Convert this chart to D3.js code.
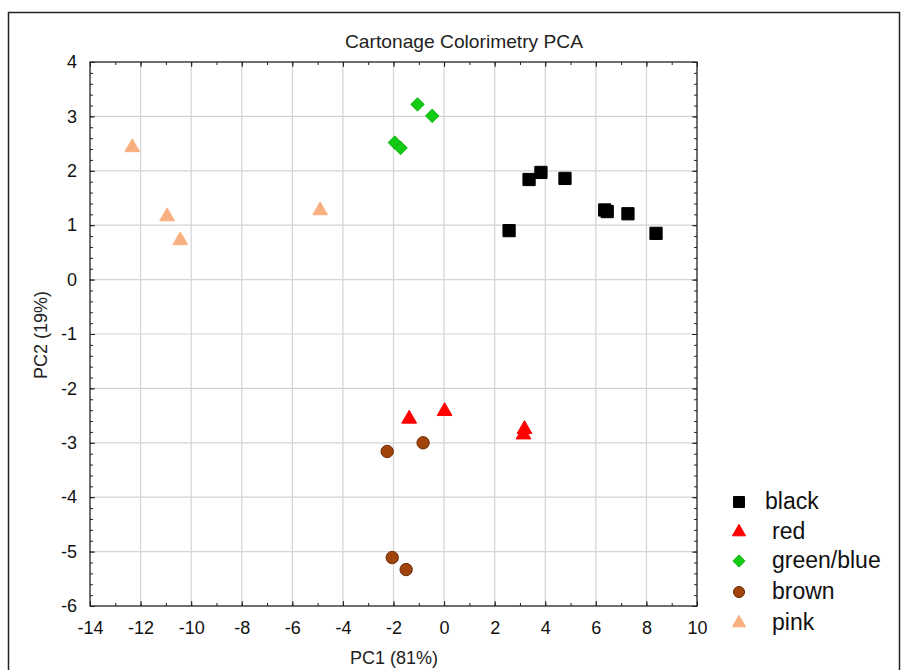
<!DOCTYPE html>
<html><head><meta charset="utf-8">
<script src="https://cdn.jsdelivr.net/npm/d3@7"></script>
<style>body{margin:0;background:#fff;} svg{display:block;}</style>
</head><body>
<svg id="chart" width="903" height="670"></svg>
<script>
const title = "Cartonage Colorimetry PCA";
const xLabel = "PC1 (81%)";
const yLabel = "PC2 (19%)";
const xTicks = [-14,-12,-10,-8,-6,-4,-2,0,2,4,6,8,10];
const yTicks = [4,3,2,1,0,-1,-2,-3,-4,-5,-6];
const groups = ["black","red","green/blue","brown","pink"];
const blackPts = [[2.57,0.90],[3.36,1.84],[3.83,1.97],[4.78,1.86],[6.35,1.28],[6.45,1.25],[7.27,1.21],[8.38,0.85]];
const redPts = [[-1.38,-2.56],[0.02,-2.42],[3.18,-2.75],[3.14,-2.85]];
const greenPts = [[-1.05,3.22],[-0.47,3.01],[-1.95,2.52],[-1.72,2.42]];
const brownPts = [[-2.25,-3.16],[-0.83,-3.0],[-2.05,-5.11],[-1.5,-5.33]];
const pinkPts = [[-12.33,2.43],[-10.95,1.16],[-10.43,0.72],[-4.9,1.27]];
const seriesPts = [blackPts, redPts, greenPts, brownPts, pinkPts];

const styles = [
  {shape:d3.symbolSquare, size:150, fill:"#000", stroke:"#000"},
  {shape:d3.symbolTriangle, size:95, fill:"#ff0000", stroke:"#ff0000"},
  {shape:d3.symbolSquare, size:85, fill:"#14cc14", stroke:"#10b810", rot:true},
  {shape:d3.symbolCircle, size:120, fill:"#a0440c", stroke:"#6a2a05"},
  {shape:d3.symbolTriangle, size:95, fill:"#f9b080", stroke:"#f9b080"}
];

const svg = d3.select("#chart");
const font = "Arial, 'Liberation Sans', sans-serif";
// outer frame
svg.append("rect").attr("x",8.5).attr("y",12.5).attr("width",891).attr("height",700)
  .attr("fill","none").attr("stroke","#222").attr("stroke-width",1.5);

const L=90, R=697, T=62, B=606;
const x = d3.scaleLinear().domain([-14,10]).range([L,R]);
const y = d3.scaleLinear().domain([-6,4]).range([B,T]);

// grid
const g = svg.append("g");
g.selectAll(".gx").data(xTicks.slice(1,-1)).join("line")
  .attr("x1",d=>x(d)).attr("x2",d=>x(d)).attr("y1",T).attr("y2",B)
  .attr("stroke","#d4d4d4").attr("stroke-width",1.2);
g.selectAll(".gy").data(yTicks.slice(1,-1)).join("line")
  .attr("y1",d=>y(d)).attr("y2",d=>y(d)).attr("x1",L).attr("x2",R)
  .attr("stroke","#d4d4d4").attr("stroke-width",1.2);

// axes with inward ticks
const xMinor = d3.range(-13,10,1);
const yMinor = d3.range(-6,4.001,0.2);
function axisStyle(sel){ sel.select(".domain").remove(); sel.selectAll("line").attr("stroke","#222"); }
svg.append("g").attr("transform",`translate(0,${B})`)
  .call(d3.axisBottom(x).tickValues(xMinor).tickSize(-3).tickFormat("")).call(axisStyle);
svg.append("g").attr("transform",`translate(0,${B})`)
  .call(d3.axisBottom(x).tickValues(xTicks).tickSize(-5).tickPadding(15).tickFormat(d=>d)).call(axisStyle)
  .selectAll("text").attr("font-family",font).attr("font-size",18).attr("fill","#111");
svg.append("g").attr("transform",`translate(0,${T})`)
  .call(d3.axisTop(x).tickValues(xMinor).tickSize(-3).tickFormat("")).call(axisStyle);
svg.append("g").attr("transform",`translate(0,${T})`)
  .call(d3.axisTop(x).tickValues(xTicks).tickSize(-5).tickFormat("")).call(axisStyle);
svg.append("g").attr("transform",`translate(${L},0)`)
  .call(d3.axisLeft(y).tickValues(yMinor).tickSize(-3).tickFormat("")).call(axisStyle);
svg.append("g").attr("transform",`translate(${L},0)`)
  .call(d3.axisLeft(y).tickValues(yTicks).tickSize(-5).tickPadding(13).tickFormat(d=>d)).call(axisStyle)
  .selectAll("text").attr("font-family",font).attr("font-size",18).attr("fill","#111");
svg.append("g").attr("transform",`translate(${R},0)`)
  .call(d3.axisRight(y).tickValues(yMinor).tickSize(-3).tickFormat("")).call(axisStyle);
svg.append("g").attr("transform",`translate(${R},0)`)
  .call(d3.axisRight(y).tickValues(yTicks).tickSize(-5).tickFormat("")).call(axisStyle);

svg.append("rect").attr("x",L).attr("y",T).attr("width",R-L).attr("height",B-T)
  .attr("fill","none").attr("stroke","#222").attr("stroke-width",1.3);

// title & labels
svg.append("text").attr("x",464).attr("y",48).attr("text-anchor","middle")
  .attr("font-family",font).attr("font-size",19)
  .attr("textLength",238).attr("lengthAdjust","spacingAndGlyphs")
  .attr("fill","#222").text(title);
svg.append("text").attr("x",394).attr("y",664).attr("text-anchor","middle")
  .attr("font-family",font).attr("font-size",18).attr("fill","#222").text(xLabel);
svg.append("text").attr("transform","translate(47,335) rotate(-90)").attr("text-anchor","middle")
  .attr("font-family",font).attr("font-size",18).attr("fill","#222").text(yLabel);

// points
seriesPts.forEach((pts,i)=>{
  const s = styles[i];
  svg.append("g").selectAll("path").data(pts).join("path")
    .attr("d",d3.symbol().type(s.shape).size(s.size))
    .attr("transform",d=>`translate(${x(d[0])},${y(d[1])})${s.rot?" rotate(45)":""}`)
    .attr("fill",s.fill).attr("stroke",s.stroke).attr("stroke-width",1)
    .attr("stroke-linejoin","round");
});

// legend
const legY = [502,532,561,592,623];
const legX = [765,772,772,772,772];
groups.forEach((name,i)=>{
  const s = styles[i];
  svg.append("path").attr("d",d3.symbol().type(s.shape).size(s.size*0.8)())
    .attr("transform",`translate(739,${legY[i]})${s.rot?" rotate(45)":""}`)
    .attr("fill",s.fill).attr("stroke",s.stroke).attr("stroke-width",1);
  svg.append("text").attr("x",legX[i]).attr("y",legY[i]+7).attr("font-family",font)
    .attr("font-size",23).attr("fill","#111").text(name);
});
</script>
</body></html>
